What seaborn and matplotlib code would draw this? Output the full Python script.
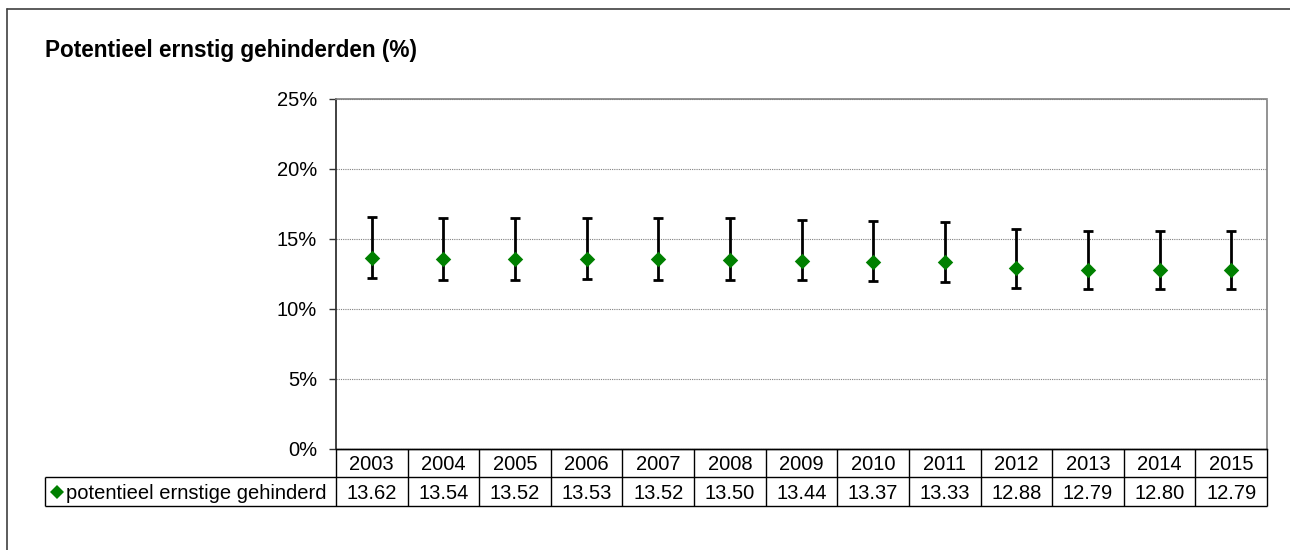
import numpy as np
import pandas as pd
import seaborn as sns
import matplotlib.pyplot as plt
import matplotlib.transforms as mtransforms
from matplotlib.lines import Line2D
from matplotlib.ticker import FuncFormatter, FixedLocator

# Data: share of potentially severely annoyed people (%) with confidence limits
years = ["2003", "2004", "2005", "2006", "2007", "2008", "2009",
         "2010", "2011", "2012", "2013", "2014", "2015"]
values = [13.62, 13.54, 13.52, 13.53, 13.52, 13.50, 13.44,
          13.37, 13.33, 12.88, 12.79, 12.80, 12.79]
upper = [16.56, 16.50, 16.48, 16.48, 16.48, 16.48, 16.33,
         16.26, 16.21, 15.66, 15.54, 15.57, 15.54]
lower = [12.17, 12.08, 12.08, 12.11, 12.08, 12.08, 12.03,
         11.96, 11.91, 11.51, 11.44, 11.44, 11.44]
yticks = [0, 5, 10, 15, 20, 25]
series_label = "potentieel ernstige gehinderd"
title = "Potentieel ernstig gehinderden (%)"

GREEN = "#008000"
FS = 14.5
TITLE_FS = 16.3

sns.set_theme(style="white")
plt.rcParams['font.family'] = ['Liberation Sans', 'DejaVu Sans']

W, H = 1290, 550
fig = plt.figure(figsize=(W / 100, H / 100), dpi=100)
fig.patch.set_facecolor("white")

ax = fig.add_axes([336 / W, 1 - 449 / H, (1267 - 336) / W, (449 - 98.5) / H])

df = pd.DataFrame({"year": years, "value": values, "low": lower, "high": upper})
df["x"] = np.arange(len(df))

ax.errorbar(df["x"], df["value"],
            yerr=[df["value"] - df["low"], df["high"] - df["value"]],
            fmt="none", ecolor="black", elinewidth=2.0, capsize=3.8,
            capthick=2.0, zorder=3)
sns.scatterplot(data=df, x="x", y="value", marker="D", s=62, color=GREEN,
                edgecolor=GREEN, linewidth=0, ax=ax, zorder=4, legend=False)

ax.set_xlim(-0.5, len(df) - 0.5)
ax.set_ylim(0, 25)
ax.set_xlabel("")
ax.set_ylabel("")
ax.set_xticks([])
ax.yaxis.set_major_locator(FixedLocator(yticks))
ax.yaxis.set_major_formatter(FuncFormatter(lambda v, _: f"{v:.0f}%"))
ax.tick_params(axis="y", left=True, direction="out", length=5, width=1,
               color="#333333", pad=8.5, labelsize=FS, labelcolor="black")
ax.yaxis.grid(True, color="#808080", linestyle=(0, (1, 1)), linewidth=0.8)
ax.set_axisbelow(True)

ax.spines["left"].set_color("#333333")
ax.spines["left"].set_linewidth(1.3)
for side in ("top", "right"):
    ax.spines[side].set_color("#808080")
    ax.spines[side].set_linestyle((0, (1, 1)))
    ax.spines[side].set_linewidth(1.2)
ax.spines["bottom"].set_color("black")
ax.spines["bottom"].set_linewidth(1.0)

# Data table under the plot
blend = mtransforms.blended_transform_factory(ax.transData, fig.transFigure)
y_top = 1 - 449 / H
y_mid = 1 - 477 / H
y_bot = 1 - 506 / H
x_left = -0.5
x_right = len(df) - 0.5
leg_left = 45 / W
line_kw = dict(color="black", linewidth=1.0, solid_capstyle="butt")

fig.add_artist(Line2D([x_left, x_right], [y_top, y_top], transform=blend, **line_kw))
for yy in (y_mid, y_bot):
    fig.add_artist(Line2D([leg_left, 1267 / W], [yy, yy],
                          transform=fig.transFigure, **line_kw))
for i in range(len(df) + 1):
    fig.add_artist(Line2D([i - 0.5, i - 0.5], [y_top, y_bot], transform=blend, **line_kw))
fig.add_artist(Line2D([leg_left, leg_left], [y_mid, y_bot],
                      transform=fig.transFigure, **line_kw))

for i, (yr, v) in enumerate(zip(years, values)):
    fig.text(i, (y_top + y_mid) / 2, yr, transform=blend, ha="center",
             va="center_baseline", fontsize=FS, color="black")
    fig.text(i, (y_mid + y_bot) / 2, f"{v:.2f}", transform=blend, ha="center",
             va="center_baseline", fontsize=FS, color="black")

fig.add_artist(Line2D([57 / W], [(y_mid + y_bot) / 2], marker="D", markersize=7.2,
                      color=GREEN, markeredgewidth=0, linestyle="none",
                      transform=fig.transFigure))
fig.text(66 / W, (y_mid + y_bot) / 2, series_label, ha="left",
         va="center_baseline", fontsize=FS, color="black")

# Title
fig.text(45 / W, 1 - 57 / H, title, ha="left", va="baseline",
         fontsize=TITLE_FS, fontweight="bold", color="black")

# Frame around the chart area
frame_kw = dict(color="#404040", linewidth=1.2, transform=fig.transFigure)
fig.add_artist(Line2D([7 / W, 1], [1 - 9 / H, 1 - 9 / H], **frame_kw))
fig.add_artist(Line2D([7 / W, 7 / W], [0, 1 - 9 / H], **frame_kw))

fig.savefig("out.png", dpi=100)
